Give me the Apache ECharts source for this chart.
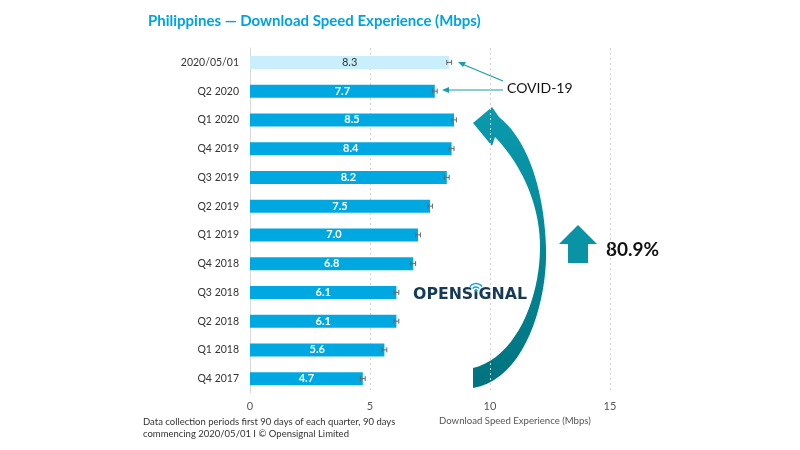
<!DOCTYPE html>
<html><head><meta charset="utf-8">
<script src="https://cdn.jsdelivr.net/npm/echarts@6/dist/echarts.min.js"></script>
<style>html,body{margin:0;padding:0;background:#fff}#c{width:800px;height:450px}</style>
</head><body><div id="c"></div>
<script>
var categories = ['2020/05/01','Q2 2020','Q1 2020','Q4 2019','Q3 2019','Q2 2019','Q1 2019','Q4 2018','Q3 2018','Q2 2018','Q1 2018','Q4 2017'];
var speeds = [8.3,7.7,8.5,8.4,8.2,7.5,7.0,6.8,6.1,6.1,5.6,4.7];
var errLow = [8.2,7.6,8.4,8.3,8.1,7.4,6.9,6.7,6.0,6.0,5.5,4.6];
var errHigh = [8.4,7.8,8.6,8.5,8.3,7.6,7.1,6.9,6.2,6.2,5.7,4.8];
var xTicks = [0,5,10,15];

var chart = echarts.init(document.getElementById('c'));
var F = 'Lato, "Noto Sans", sans-serif';
var barData = speeds.map(function(v,i){
  return i===0 ? {value:v,itemStyle:{color:'#c9effc'},label:{color:'#333',fontWeight:'normal'}} : v;
});
var errData = categories.map(function(c,i){return [i, errLow[i], errHigh[i]];});

function cubic(p0,p1,p2,p3,n){
  var out=[];
  for(var k=0;k<=n;k++){var t=k/n,u=1-t;
    out.push([u*u*u*p0[0]+3*u*u*t*p1[0]+3*u*t*t*p2[0]+t*t*t*p3[0],
              u*u*u*p0[1]+3*u*u*t*p1[1]+3*u*t*t*p2[1]+t*t*t*p3[1]]);}
  return out;
}
var arc = [].concat(
  cubic([473,388],[525,380],[548,300],[546,247],20),
  cubic([546,247],[544,190],[528,140],[499,117],20),
  [[492,107],[473,123],[492,146]],
  cubic([495,137],[522,165],[540,205],[540,247],20),
  cubic([540,247],[540,300],[515,358],[473,368],20)
);

// logo text measurement
var ctx = document.createElement('canvas').getContext('2d');
var LF = '"DejaVu Sans", sans-serif';
ctx.font = 'bold 14px ' + LF;
var wFull = ctx.measureText('OPENSıGNAL').width;
var lsz = 14 * 114 / wFull;
ctx.font = 'bold ' + lsz + 'px ' + LF;
var w1 = ctx.measureText('OPENS').width, w2 = ctx.measureText('ı').width;
var logoX = 413, logoY = 287;
var ix = logoX + w1 + w2/2;
var wy = 291;

chart.setOption({
  animation:false,
  textStyle:{fontFamily:F},
  title:{text:'Philippines — Download Speed Experience (Mbps)',left:143,top:9,
    textStyle:{fontFamily:F,fontSize:15,fontWeight:'bold',color:'#00a3e0'}},
  grid:{left:250,right:190,top:48,bottom:57},
  xAxis:{type:'value',min:0,max:15,interval:5,
    axisLine:{show:false},axisTick:{show:false},
    axisLabel:{color:'#555',fontSize:11,margin:8,fontFamily:F},
    splitLine:{lineStyle:{type:[2,3],color:'#d0d0d0'}}},
  yAxis:{type:'category',data:categories,inverse:true,
    axisLine:{show:true,lineStyle:{color:'#d8d8d8'}},axisTick:{show:false},
    axisLabel:{color:'#333',fontSize:10.5,margin:11,fontFamily:F}},
  series:[
    {type:'bar',data:barData,barWidth:13,itemStyle:{color:'#00a8e1'},
      label:{show:true,position:'inside',color:'#fff',fontSize:11,fontFamily:F,fontWeight:'bold',
        formatter:function(p){return p.value.toFixed(1);}}},
    {type:'custom',data:errData,z:5,
      renderItem:function(params,api){
        var i=api.value(0);
        var a=api.coord([api.value(1),i]), b=api.coord([api.value(2),i]);
        var h=2.5, st={stroke:'#666',lineWidth:1};
        return {type:'group',children:[
          {type:'line',shape:{x1:a[0],y1:a[1],x2:b[0],y2:b[1]},style:st},
          {type:'line',shape:{x1:a[0],y1:a[1]-h,x2:a[0],y2:a[1]+h},style:st},
          {type:'line',shape:{x1:b[0],y1:b[1]-h,x2:b[0],y2:b[1]+h},style:st}
        ]};
      }}
  ],
  graphic:[
    {type:'text',left:143,top:416,style:{text:'Data collection periods first 90 days of each quarter, 90 days\ncommencing 2020/05/01 I © Opensignal Limited',
      fill:'#333',font:'9.5px '+F,lineHeight:12}},
    {type:'text',left:439,top:416,style:{text:'Download Speed Experience (Mbps)',fill:'#555',font:'9.6px '+F}},
    {type:'text',left:507,top:81,style:{text:'COVID-19',fill:'#111',font:'14px '+F}},
    {type:'line',shape:{x1:503,y1:81,x2:462,y2:64},style:{stroke:'#1a9bae',lineWidth:1.2}},
    {type:'polygon',shape:{points:[[458,62],[466,62],[463,67]]},style:{fill:'#1a9bae'}},
    {type:'line',shape:{x1:503,y1:90,x2:446,y2:90},style:{stroke:'#1a9bae',lineWidth:1.2}},
    {type:'polygon',shape:{points:[[442,90],[449,87],[449,93]]},style:{fill:'#1a9bae'}},
    {type:'polygon',shape:{points:arc},
      style:{fill:new echarts.graphic.LinearGradient(0,0,0,1,[{offset:0,color:'#0a9bae'},{offset:1,color:'#00737f'}])}},
    {type:'polygon',shape:{points:[[559,244],[578,225],[597,244],[588,244],[588,263],[568,263],[568,244]]},style:{fill:'#0a93a5'}},
    {type:'text',left:606,top:240,style:{text:'80.9%',fill:'#111',font:'bold 19px '+F}},
    {type:'text',x:logoX,y:logoY,z:10,style:{text:'OPENSıGNAL',fill:'#163a55',font:'bold '+lsz+'px '+LF}},
    {type:'arc',z:11,shape:{cx:ix,cy:wy,r:4,startAngle:-Math.PI*0.8,endAngle:-Math.PI*0.2,clockwise:true},style:{stroke:'#12a6d6',lineWidth:1.4,fill:null}},
    {type:'arc',z:11,shape:{cx:ix,cy:wy,r:7.5,startAngle:-Math.PI*0.8,endAngle:-Math.PI*0.2,clockwise:true},style:{stroke:'#12a6d6',lineWidth:1.4,fill:null}},
    {type:'circle',z:11,shape:{cx:ix,cy:wy-0.5,r:1.4},style:{fill:'#12a6d6'}}
  ]
});
</script></body></html>
